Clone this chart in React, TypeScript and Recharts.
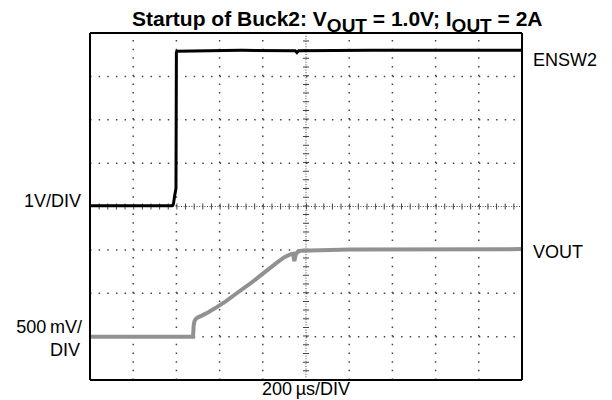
import React from 'react';
import { LineChart, Line, XAxis, YAxis, ReferenceLine } from 'recharts';

// Horizontal: 200 µs/DIV, 10 divisions
const timeSpanUs = [0, 2000];
const majorTimeTicks = [200, 400, 600, 800, 1200, 1400, 1600, 1800];
const centerTime = 1000;
// Vertical: 8 divisions
const divSpan = [0, 8];
const majorDivTicks = [1, 2, 3, 5, 6, 7];
const centerDiv = 4;

// ENSW2 channel: 1 V/DIV, ground at division 4
const ensw2TimeUs = [0, 380, 386, 392, 398, 400, 402, 700, 950, 958, 966, 1300, 2000];
const ensw2Volts = [0.02, 0.02, 0.05, 0.25, 0.42, 3.55, 3.58, 3.6, 3.59, 3.55, 3.59, 3.6, 3.6];
const ensw2VoltsPerDiv = 1;
const ensw2GroundDiv = 4;

// VOUT channel: 500 mV/DIV, ground at division 1
const voutTimeUs = [0, 477, 480, 484, 490, 500, 520, 550, 587, 630, 679, 741, 818, 864, 900, 925, 940, 946, 952, 960, 975, 1204, 2000];
const voutVolts = [0, 0, 0.13, 0.18, 0.205, 0.222, 0.245, 0.285, 0.34, 0.41, 0.5, 0.61, 0.76, 0.85, 0.915, 0.945, 0.955, 0.87, 0.94, 0.975, 0.99, 1.003, 1.009];
const voutVoltsPerDiv = 0.5;
const voutGroundDiv = 1;

const minorTimeTicks: number[] = [];
for (let t = timeSpanUs[0]; t <= timeSpanUs[1]; t += 40) minorTimeTicks.push(t);
const minorDivTicks: number[] = [];
for (let i = 0; i <= 40; i++) minorDivTicks.push(Math.round(i * 20) / 100);

const ensw2Data = ensw2TimeUs.map((t, i) => ({ t, y: ensw2GroundDiv + ensw2Volts[i] / ensw2VoltsPerDiv }));
const voutData = voutTimeUs.map((t, i) => ({ t, y: voutGroundDiv + voutVolts[i] / voutVoltsPerDiv }));

const FONT = '"Liberation Sans", Arial, Helvetica, sans-serif';
const gridColor = '#444';

export default function App() {
  return (
    <div style={{ position: 'relative', width: 612, height: 400, background: '#fff', fontFamily: FONT }}>
      <style>{'body{margin:0;}'}</style>
      <LineChart
        width={612}
        height={400}
        margin={{ top: 33, right: 90, bottom: 20, left: 90 }}
        style={{ position: 'absolute', left: 0, top: 0 }}
      >
        <XAxis
          xAxisId="b"
          type="number"
          dataKey="t"
          domain={timeSpanUs}
          ticks={minorTimeTicks}
          orientation="bottom"
          mirror
          tick={false}
          tickSize={4}
          tickLine={{ stroke: '#000', strokeWidth: 1 }}
          axisLine={{ stroke: '#000', strokeWidth: 2 }}
          allowDataOverflow
        />
        <XAxis
          xAxisId="t"
          type="number"
          domain={timeSpanUs}
          ticks={minorTimeTicks}
          orientation="top"
          mirror
          tick={false}
          tickSize={4}
          tickLine={{ stroke: '#000', strokeWidth: 1 }}
          axisLine={{ stroke: '#000', strokeWidth: 2 }}
          allowDataOverflow
        />
        <YAxis
          yAxisId="l"
          type="number"
          domain={divSpan}
          ticks={minorDivTicks}
          orientation="left"
          mirror
          tick={false}
          tickSize={4}
          tickLine={{ stroke: '#000', strokeWidth: 1 }}
          axisLine={{ stroke: '#000', strokeWidth: 2 }}
          allowDataOverflow
        />
        <YAxis
          yAxisId="r"
          type="number"
          domain={divSpan}
          ticks={minorDivTicks}
          orientation="right"
          mirror
          tick={false}
          tickSize={4}
          tickLine={{ stroke: '#000', strokeWidth: 1 }}
          axisLine={{ stroke: '#000', strokeWidth: 2 }}
          allowDataOverflow
        />
        {majorTimeTicks.map((v) => (
          <ReferenceLine
            key={'gx' + v}
            x={v}
            xAxisId="b"
            yAxisId="l"
            stroke={gridColor}
            strokeWidth={1.5}
            strokeDasharray="1.5 7.18"
          />
        ))}
        {majorDivTicks.map((v) => (
          <ReferenceLine
            key={'gy' + v}
            y={v}
            xAxisId="b"
            yAxisId="l"
            stroke={gridColor}
            strokeWidth={1.5}
            strokeDasharray="1.5 7.14"
          />
        ))}
        <ReferenceLine x={centerTime} xAxisId="b" yAxisId="l" stroke={gridColor} strokeWidth={1} strokeDasharray="1 1.6" />
        <ReferenceLine x={centerTime} xAxisId="b" yAxisId="l" stroke={gridColor} strokeWidth={6} strokeDasharray="1 7.68" />
        <ReferenceLine y={centerDiv} xAxisId="b" yAxisId="l" stroke={gridColor} strokeWidth={1} strokeDasharray="1 1.6" />
        <ReferenceLine y={centerDiv} xAxisId="b" yAxisId="l" stroke={gridColor} strokeWidth={6} strokeDasharray="1 7.64" />
        <Line
          data={voutData}
          xAxisId="b"
          yAxisId="l"
          dataKey="y"
          type="linear"
          stroke="#919191"
          strokeWidth={4}
          dot={false}
          activeDot={false}
          isAnimationActive={false}
        />
        <Line
          data={ensw2Data}
          xAxisId="b"
          yAxisId="l"
          dataKey="y"
          type="linear"
          stroke="#000"
          strokeWidth={3}
          dot={false}
          activeDot={false}
          isAnimationActive={false}
        />
      </LineChart>
      <svg width={612} height={400} style={{ position: 'absolute', left: 0, top: 0, pointerEvents: 'none' }}>
        <text x={132} y={26} fontFamily={FONT} fontSize={21} fontWeight="bold" fill="#000">
          <tspan>Startup of Buck2: V</tspan>
          <tspan fontSize={19} dy={6}>OUT</tspan>
          <tspan dy={-6}> = 1.0V; I</tspan>
          <tspan fontSize={19} dy={6}>OUT</tspan>
          <tspan dy={-6}> = 2A</tspan>
        </text>
        <text x={533} y={66} fontFamily={FONT} fontSize={18} fill="#000">ENSW2</text>
        <text x={533} y={257.5} fontFamily={FONT} fontSize={18} fill="#000">VOUT</text>
        <text x={81} y={207} fontFamily={FONT} fontSize={18} fill="#000" textAnchor="end">1V/DIV</text>
        <text x={82} y={333} fontFamily={FONT} fontSize={18} fill="#000" textAnchor="end">500{'\u2009'}mV/</text>
        <text x={80} y={356} fontFamily={FONT} fontSize={18} fill="#000" textAnchor="end">DIV</text>
        <text x={306} y={395} fontFamily={FONT} fontSize={18} fill="#000" textAnchor="middle">200{'\u2009'}µs/DIV</text>
      </svg>
    </div>
  );
}
